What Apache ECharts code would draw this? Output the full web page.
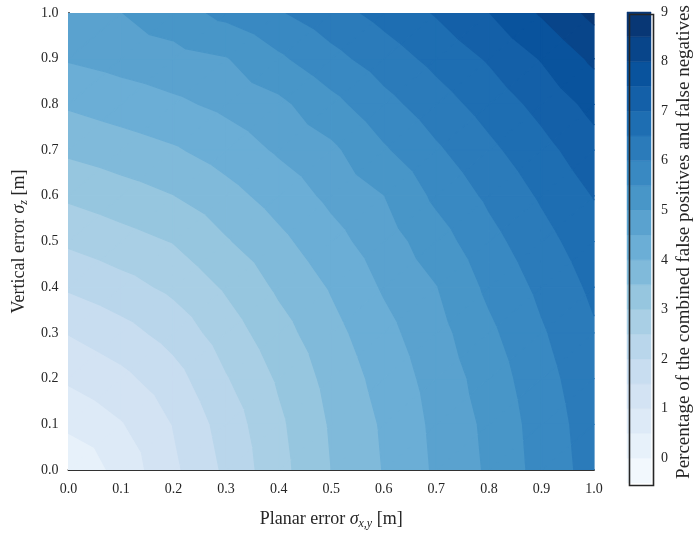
<!DOCTYPE html>
<html>
<head>
<meta charset="utf-8">
<script src="https://cdn.jsdelivr.net/npm/echarts@6/dist/echarts.min.js"></script>
<style>html,body{margin:0;padding:0;background:#fff}#c{width:693px;height:535px}</style>
</head>
<body>
<div id="c"></div>
<script>
// grid coordinates (planar error along x, vertical error along y)
const xs = [0.0, 0.1, 0.2, 0.3, 0.4, 0.5, 0.6, 0.7, 0.8, 0.9, 1.0];
const ys = [0.0, 0.1, 0.2, 0.3, 0.4, 0.5, 0.6, 0.7, 0.8, 0.9, 1.0];
// percentage values, one row per vertical error (bottom row first)
const Z = [
  [0.05, 0.67, 1.40, 2.09, 2.83, 3.50, 4.02, 4.57, 5.07, 5.68, 6.20],
  [0.61, 0.96, 1.52, 2.21, 2.90, 3.55, 4.06, 4.61, 5.11, 5.72, 6.24],
  [1.07, 1.36, 1.80, 2.46, 3.06, 3.66, 4.18, 4.69, 5.22, 5.81, 6.32],
  [1.52, 1.81, 2.19, 2.74, 3.30, 3.83, 4.34, 4.82, 5.39, 5.94, 6.44],
  [2.06, 2.31, 2.61, 3.06, 3.58, 4.04, 4.55, 4.98, 5.60, 6.11, 6.60],
  [2.58, 2.80, 3.02, 3.45, 3.87, 4.32, 4.76, 5.27, 5.83, 6.32, 6.79],
  [3.08, 3.28, 3.49, 3.82, 4.20, 4.61, 4.99, 5.60, 6.09, 6.56, 7.02],
  [3.59, 3.76, 3.94, 4.22, 4.56, 4.89, 5.43, 5.92, 6.38, 6.83, 7.31],
  [4.06, 4.23, 4.40, 4.61, 4.88, 5.34, 5.83, 6.27, 6.70, 7.15, 7.65],
  [4.54, 4.68, 4.82, 4.97, 5.41, 5.84, 6.24, 6.64, 7.05, 7.53, 8.10],
  [4.92, 4.99, 5.28, 5.63, 5.95, 6.30, 6.66, 7.04, 7.49, 8.05, 8.64]
];
// contour levels and band colours
const levels = [-0.5, 0, 0.5, 1, 1.5, 2, 2.5, 3, 3.5, 4, 4.5, 5, 5.5, 6, 6.5, 7, 7.5, 8, 8.5, 9];
const bandColors = ['#f2f8fd','#e7f1fa','#ddeaf7','#d3e3f3','#c8ddf0','#b9d6eb','#a9cfe5','#96c6df',
  '#80bada','#6baed6','#5aa2cf','#4896c8','#3989c2','#2b7bba','#1e6eb2','#1460a8','#09539d','#08458a','#083775'];
const cbTicks = [0, 1, 2, 3, 4, 5, 6, 7, 8, 9];

const FONT = '"Liberation Serif", "DejaVu Serif", serif';
const TXT = '#262626';

const cells = [];
for (let j = 0; j < ys.length - 1; j++)
  for (let i = 0; i < xs.length - 1; i++) cells.push([xs[i], ys[j], i, j]);

function clip(poly, lev, keepAbove) {
  const out = [];
  const n = poly.length;
  for (let k = 0; k < n; k++) {
    const a = poly[k], b = poly[(k + 1) % n];
    const ina = keepAbove ? a[2] >= lev : a[2] <= lev;
    const inb = keepAbove ? b[2] >= lev : b[2] <= lev;
    if (ina) out.push(a);
    if (ina !== inb) {
      const t = (lev - a[2]) / (b[2] - a[2]);
      out.push([a[0] + t * (b[0] - a[0]), a[1] + t * (b[1] - a[1]), lev]);
    }
  }
  return out;
}

function renderCell(params, api) {
  const i = api.value(2), j = api.value(3);
  const P = (ii, jj) => {
    const c = api.coord([xs[ii], ys[jj]]);
    return [c[0], c[1], Z[jj][ii]];
  };
  const p00 = P(i, j), p10 = P(i + 1, j), p11 = P(i + 1, j + 1), p01 = P(i, j + 1);
  const tris = [[p00, p10, p11], [p00, p11, p01]];
  const children = [];
  tris.forEach(tri => {
    for (let b = 0; b < levels.length - 1; b++) {
      let poly = clip(tri, levels[b], true);
      if (poly.length < 3) continue;
      poly = clip(poly, levels[b + 1], false);
      if (poly.length < 3) continue;
      children.push({
        type: 'polygon',
        shape: { points: poly.map(p => [p[0], p[1]]) },
        style: { fill: bandColors[b], stroke: bandColors[b], lineWidth: 1.2, lineJoin: 'round' }
      });
    }
  });
  return { type: 'group', children: children };
}

const bands = [];
for (let b = 0; b < levels.length - 1; b++) bands.push([0, levels[b], levels[b + 1], b]);

function renderBand(params, api) {
  const lo = api.coord([0, api.value(1)]);
  const hi = api.coord([0, api.value(2)]);
  const size = api.size([1, 0]);
  const x0 = lo[0] - size[0] / 2;
  return {
    type: 'rect',
    shape: { x: x0, y: hi[1], width: size[0], height: lo[1] - hi[1] },
    style: { fill: bandColors[api.value(3)], stroke: bandColors[api.value(3)], lineWidth: 0.5 }
  };
}

const richT = {
  s: { fontFamily: FONT, fontStyle: 'italic', fontSize: 18, color: TXT, lineHeight: 22 },
  sub: { fontFamily: FONT, fontStyle: 'italic', fontSize: 12, color: TXT, verticalAlign: 'bottom', lineHeight: 13 }
};

const chart = echarts.init(document.getElementById('c'), null, { renderer: 'canvas' });
const axisLine = { show: true, lineStyle: { color: '#262626', width: 1.6 } };
chart.setOption({
  animation: false,
  backgroundColor: '#fff',
  textStyle: { fontFamily: FONT },
  grid: [
    { left: 63, top: 13, width: 531, height: 470 },
    { left: 627, top: 12, width: 24, height: 471 }
  ],
  xAxis: [
    { type: 'value', gridIndex: 0, min: 0, max: 1, interval: 0.1, position: 'bottom',
      axisLine: axisLine, axisTick: { show: false }, splitLine: { show: false },
      axisLabel: { margin: 12, color: TXT, fontFamily: FONT, fontSize: 14, formatter: v => v.toFixed(1) },
      name: 'Planar error {s|σ}{sub|x,y} [m]', nameLocation: 'middle', nameGap: 38,
      nameTextStyle: { color: TXT, fontFamily: FONT, fontSize: 18, lineHeight: 22, rich: richT } },
    { type: 'value', gridIndex: 0, min: 0, max: 1, position: 'top',
      axisLine: axisLine, axisTick: { show: false }, splitLine: { show: false }, axisLabel: { show: false } },
    { type: 'category', gridIndex: 1, data: ['c'], axisLine: { show: false }, axisTick: { show: false },
      axisLabel: { show: false }, splitLine: { show: false } }
  ],
  yAxis: [
    { type: 'value', gridIndex: 0, min: 0, max: 1, interval: 0.1, position: 'left',
      axisLine: axisLine, axisTick: { show: false }, splitLine: { show: false },
      axisLabel: { margin: 10, color: TXT, fontFamily: FONT, fontSize: 14, formatter: v => v.toFixed(1) },
      name: 'Vertical error {s|σ}{sub|z} [m]', nameLocation: 'middle', nameGap: 38, nameRotate: 90,
      nameTextStyle: { color: TXT, fontFamily: FONT, fontSize: 18, lineHeight: 22, rich: richT } },
    { type: 'value', gridIndex: 0, min: 0, max: 1, position: 'right',
      axisLine: axisLine, axisTick: { show: false }, splitLine: { show: false }, axisLabel: { show: false } },
    { type: 'value', gridIndex: 1, min: -0.5, max: 9, position: 'right',
      axisLine: { show: false }, axisTick: { show: false }, splitLine: { show: false },
      axisLabel: { customValues: cbTicks, inside: false, align: 'left', margin: 10,
        color: TXT, fontFamily: FONT, fontSize: 14 } }
  ],
  series: [
    { type: 'custom', xAxisIndex: 0, yAxisIndex: 0, clip: true, data: cells, renderItem: renderCell, z: 1, silent: true },
    { type: 'custom', xAxisIndex: 2, yAxisIndex: 2, data: bands, renderItem: renderBand, z: 1, silent: true }
  ],
  graphic: [
    { type: 'rect', left: 627, top: 12, shape: { width: 24, height: 471 },
      style: { fill: 'none', stroke: '#262626', lineWidth: 1.6 }, z: 100 },
    { type: 'text', x: 684, y: 242, rotation: Math.PI / 2, z: 100,
      style: { text: 'Percentage of the combined false positives and false negatives',
        fill: TXT, font: '19px "Liberation Serif", serif', align: 'center', verticalAlign: 'middle' } }
  ]
});
</script>
</body>
</html>
